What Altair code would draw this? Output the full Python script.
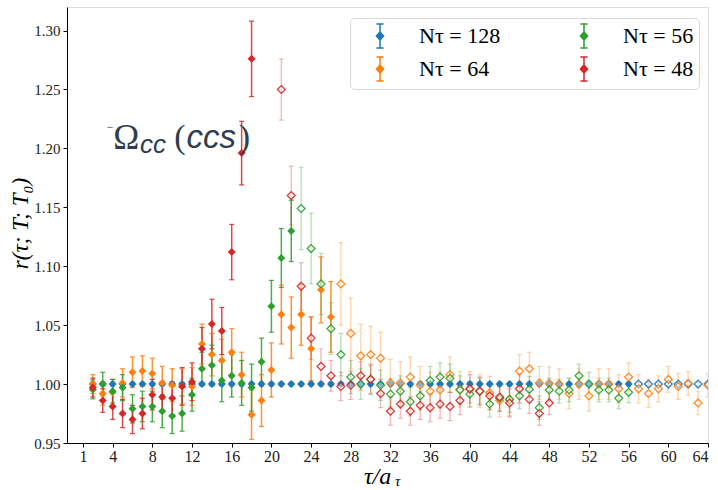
import altair as alt
import pandas as pd

# ---------------- data ----------------
tau_start = 2
series = ["128", "64", "56", "48"]            # draw order and legend order
series_colors = {"128": "#1f77b4", "64": "#ff7f0e", "56": "#2ca02c", "48": "#d62728"}
filled_until = {"128": 56, "64": 26, "56": 22, "48": 20}

r_128 = [1.000, 1.000, 1.000, 1.000, 1.000, 1.000, 1.000, 1.000, 1.000, 1.000,
         1.000, 1.000, 1.000, 1.000, 1.000, 1.000, 1.000, 1.000, 1.000, 1.000,
         1.000, 1.000, 1.000, 1.000, 1.000, 1.000, 1.000, 1.000, 1.000, 1.000,
         1.000, 1.000, 1.000, 1.000, 1.000, 1.000, 1.000, 1.000, 1.000, 1.000,
         1.000, 1.000, 1.000, 1.000, 1.000, 1.000, 1.000, 1.000, 1.000, 1.000,
         1.000, 1.000, 1.000, 1.000, 1.000, 1.000, 1.000, 1.000, 1.000, 1.000,
         1.000, 1.000, 1.000]
e_128 = [0.0015] * 63

r_64 = [1.000, 0.992, 0.993, 1.001, 1.010, 1.011, 1.009, 1.001, 0.999, 0.998,
        0.998, 1.034, 1.025, 1.020, 1.027, 1.008, 0.974, 0.986, 1.012, 1.059,
        1.048, 1.059, 1.030, 1.080, 1.057, 1.085, 1.043, 1.024, 1.025, 1.022,
        1.001, 1.001, 1.006, 0.999, 0.994, 0.995, 1.008, 0.9955, 0.9955, 0.994,
        0.9926, 0.986, 0.987, 1.011, 1.013, 1.001, 1.0006, 1.000, 0.992, 1.000,
        0.990, 1.000, 1.000, 0.996, 1.006, 0.996, 0.992, 0.996, 1.004, 0.998,
        1.0006, 0.984, 0.999]
e_64 = [0.008, 0.010, 0.011, 0.012, 0.013, 0.013, 0.013, 0.014, 0.014, 0.015,
        0.016, 0.017, 0.018, 0.018, 0.020, 0.019, 0.021, 0.022, 0.023, 0.025,
        0.026, 0.026, 0.027, 0.028, 0.030, 0.035, 0.030, 0.027, 0.024, 0.022,
        0.020, 0.018, 0.017, 0.016, 0.016, 0.015, 0.015, 0.015, 0.015, 0.014,
        0.014, 0.014, 0.014, 0.014, 0.014, 0.014, 0.014, 0.013, 0.013, 0.013,
        0.013, 0.013, 0.013, 0.012, 0.012, 0.012, 0.012, 0.011, 0.011, 0.011,
        0.010, 0.010, 0.010]

r_56 = [0.9955, 1.000, 0.994, 0.997, 0.979, 0.981, 0.981, 0.977, 0.973, 0.975,
        0.991, 1.013, 1.016, 1.003, 1.007, 1.001, 0.997, 1.019, 1.066, 1.107,
        1.130, 1.149, 1.115, 1.085, 1.047, 1.025, 1.006, 1.000, 1.004, 0.999,
        0.9915, 0.994, 0.985, 0.990, 1.003, 1.006, 1.005, 0.995, 0.9915, 0.994,
        0.983, 0.988, 0.987, 0.990, 0.9955, 0.980, 0.995, 0.994, 0.995, 1.007,
        1.000, 0.995, 0.995, 0.988, 0.993]
e_56 = [0.008, 0.010, 0.010, 0.011, 0.012, 0.013, 0.013, 0.014, 0.015, 0.015,
        0.014, 0.014, 0.017, 0.018, 0.018, 0.019, 0.020, 0.020, 0.022, 0.025,
        0.026, 0.035, 0.030, 0.026, 0.022, 0.018, 0.014, 0.013, 0.013, 0.013,
        0.013, 0.013, 0.012, 0.012, 0.012, 0.012, 0.012, 0.012, 0.011, 0.011,
        0.011, 0.011, 0.011, 0.011, 0.011, 0.010, 0.010, 0.010, 0.010, 0.010,
        0.010, 0.010, 0.010, 0.009, 0.009]

# tau = 19 and 20 lie above the plotted range
r_48 = [0.997, 0.986, 0.981, 0.975, 0.970, 0.975, 0.991, 0.989, 0.988, 0.998,
        1.002, 1.030, 1.051, 1.045, 1.112, 1.196, 1.276, None, None, 1.250,
        1.160, 1.083, 1.039, 1.015, 1.007, 0.998, 0.999, 1.007, 1.004, 0.992,
        0.977, 0.983, 0.977, 0.982, 0.980, 0.983, 0.981, 0.986, 0.996, 0.994,
        0.990, 0.989, 0.984, 0.996, 0.987, 0.975, 0.984]
e_48 = [0.008, 0.010, 0.011, 0.012, 0.012, 0.013, 0.013, 0.013, 0.014, 0.016,
        0.016, 0.018, 0.021, 0.020, 0.0235, 0.027, 0.032, None, None, 0.026,
        0.025, 0.020, 0.018, 0.015, 0.013, 0.012, 0.012, 0.012, 0.012, 0.012,
        0.012, 0.012, 0.012, 0.012, 0.012, 0.012, 0.012, 0.012, 0.012, 0.012,
        0.012, 0.012, 0.012, 0.012, 0.012, 0.010, 0.010]

values = {"128": (r_128, e_128), "64": (r_64, e_64), "56": (r_56, e_56), "48": (r_48, e_48)}

x_ticks = [1, 4, 8, 12, 16, 20, 24, 28, 32, 36, 40, 44, 48, 52, 56, 60, 64]
y_ticks = [0.95, 1.00, 1.05, 1.10, 1.15, 1.20, 1.25, 1.30]
x_domain = [-0.6, 64]
y_domain = [0.95, 1.32]

ann_color = "#2f3d4f"

# ---------------- build table ----------------
def label(n):
    return "N\u03c4 = " + n

rows = []
for order, n in enumerate(series):
    r, e = values[n]
    for i, (v, err) in enumerate(zip(r, e)):
        if v is None:
            continue
        t = tau_start + i
        filled = t <= filled_until[n]
        rows.append({
            "tau": t, "r": v, "lo": v - err, "hi": v + err,
            "label": label(n), "filled": filled,
            "eb_op": 0.85 if filled else 0.3, "ord": order,
        })
df = pd.DataFrame(rows)

dom = [label(n) for n in series]
rng = [series_colors[n] for n in series]

sym_path = ("M0,-1L0,1M-0.3,-1L0.3,-1M-0.3,1L0.3,1"
            "M0,-0.34L0.3,0L0,0.34L-0.3,0Z")
legend = alt.Legend(
    title=None, orient="none", legendX=283, legendY=11, columns=2,
    symbolType=sym_path, symbolSize=576, symbolStrokeWidth=1.5,
    labelFont="Liberation Serif", labelFontSize=22, labelColor="black",
    labelOffset=26, symbolOffset=12, columnPadding=58, rowPadding=3,
    padding=5, strokeColor="#d9d9d9", fillColor="white", cornerRadius=4,
    symbolOpacity=1,
)
cscale = alt.Scale(domain=dom, range=rng)
fill_enc = alt.Fill("label:N", scale=cscale, legend=legend)
stroke_enc = alt.Stroke("label:N", scale=cscale, legend=legend)

x_enc = alt.X("tau:Q", scale=alt.Scale(domain=x_domain, nice=False, zero=False),
              axis=alt.Axis(values=x_ticks, title=None, grid=False, tickSize=4,
                            labelFontSize=16, labelFont="Liberation Serif",
                            labelColor="#222", tickColor="black", domainColor="black",
                            labelPadding=1))
y_axis = alt.Axis(values=y_ticks, format=".2f", grid=False, tickSize=4,
                  labelFontSize=15, labelFont="Liberation Serif", labelColor="#222",
                  tickColor="black", domainColor="black", labelPadding=3,
                  title="r(\u03c4; T; T\u2080)", titleFont="Liberation Serif",
                  titleFontStyle="italic", titleFontSize=23, titleFontWeight="normal",
                  titleX=-47, titleY=216, titleAngle=-90, titleAlign="center",
                  titleBaseline="middle", titleColor="black")
y_scale = alt.Scale(domain=y_domain, nice=False, zero=False)

base = alt.Chart(df)

bars = base.mark_rule(strokeWidth=1.5, clip=True).encode(
    x=x_enc,
    y=alt.Y("lo:Q", scale=y_scale, axis=y_axis),
    y2="hi:Q",
    stroke=stroke_enc,
    opacity=alt.Opacity("eb_op:Q", scale=None),
)
cap_lo = base.mark_tick(orient="horizontal", size=5, thickness=1.2, clip=True).encode(
    x="tau:Q", y=alt.Y("lo:Q"), fill=fill_enc,
    opacity=alt.Opacity("eb_op:Q", scale=None),
)
cap_hi = base.mark_tick(orient="horizontal", size=5, thickness=1.2, clip=True).encode(
    x="tau:Q", y=alt.Y("hi:Q"), fill=fill_enc,
    opacity=alt.Opacity("eb_op:Q", scale=None),
)
pts_filled = base.transform_filter("datum.filled").mark_point(
    shape="diamond", filled=True, size=64, opacity=1, strokeWidth=0, clip=True
).encode(x="tau:Q", y="r:Q", fill=fill_enc, stroke=stroke_enc)
pts_open = base.transform_filter("!datum.filled").mark_point(
    shape="diamond", filled=False, fill="white", fillOpacity=0.5,
    size=62, strokeWidth=1.3, opacity=0.9, clip=True
).encode(x="tau:Q", y="r:Q", stroke=stroke_enc)

# ---------------- annotation:  ^-Omega_cc (ccs) ----------------
ann = [
    {"t": "\u2212", "x": 3.40, "y": 1.2150, "font": "Liberation Serif", "style": "normal", "size": 12},
    {"t": "\u03a9", "x": 4.05, "y": 1.1995, "font": "Liberation Serif", "style": "normal", "size": 35},
    {"t": "cc", "x": 6.75, "y": 1.1960, "font": "Liberation Sans", "style": "italic", "size": 26},
    {"t": "(", "x": 10.2, "y": 1.2000, "font": "Liberation Serif", "style": "normal", "size": 34},
    {"t": "ccs", "x": 11.45, "y": 1.2005, "font": "Liberation Sans", "style": "italic", "size": 33},
    {"t": ")", "x": 16.7, "y": 1.2000, "font": "Liberation Serif", "style": "normal", "size": 34},
]
ann_layers = []
for a in ann:
    ann_layers.append(
        alt.Chart(pd.DataFrame([{"t": a["t"], "x": a["x"], "y": a["y"]}])).mark_text(
            align="left", baseline="alphabetic", font=a["font"], fontStyle=a["style"],
            fontSize=a["size"], color=ann_color
        ).encode(x="x:Q", y="y:Q", text="t:N")
    )

# x-axis title: tau / a_tau
xt1 = alt.Chart(pd.DataFrame({"t": ["\u03c4/a"]})).mark_text(
    align="left", baseline="alphabetic", font="Liberation Serif", fontStyle="italic",
    fontSize=24, color="black"
).encode(x=alt.value(297), y=alt.value(477), text="t:N")
xt2 = alt.Chart(pd.DataFrame({"t": ["\u03c4"]})).mark_text(
    align="left", baseline="alphabetic", font="Liberation Serif", fontStyle="italic",
    fontSize=15, color="black"
).encode(x=alt.value(328), y=alt.value(479), text="t:N")

chart = alt.layer(bars, cap_lo, cap_hi, pts_filled, pts_open, *ann_layers, xt1, xt2).properties(
    width=641, height=436,
    padding={"left": 67, "top": 7, "right": 10, "bottom": 47},
    autosize=alt.AutoSizeParams(type="none"),
).configure_view(stroke="black", strokeWidth=1).configure(background="white")

chart.save("out.html", embed_options={"renderer": "svg", "actions": False})
